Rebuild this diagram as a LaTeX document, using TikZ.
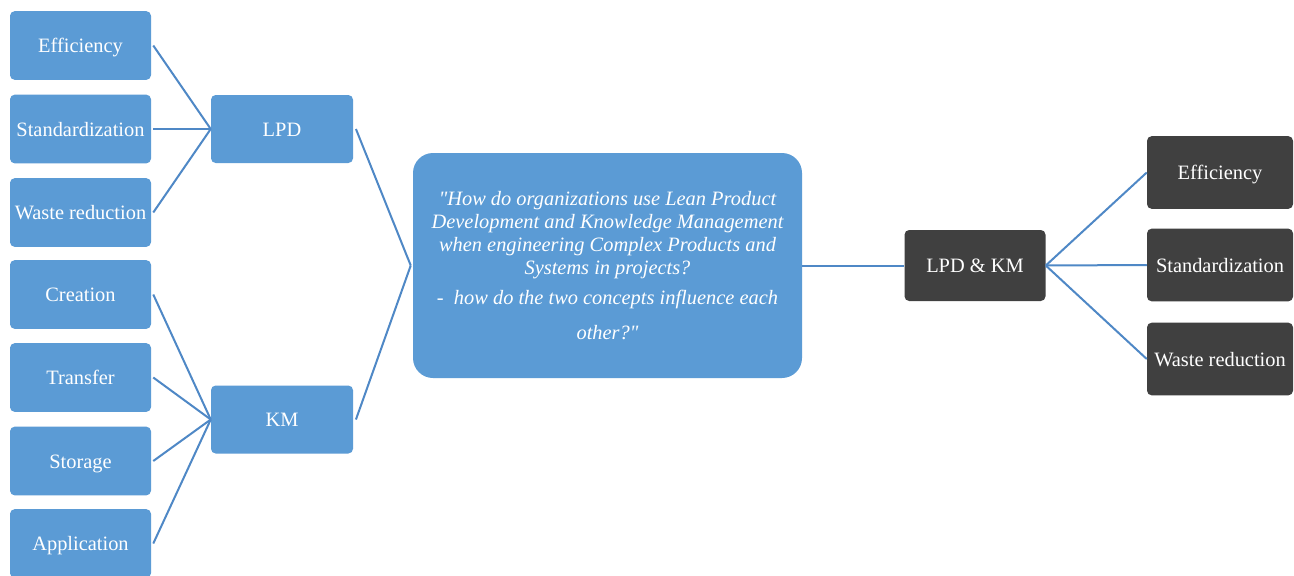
\documentclass[tikz,border=0pt]{standalone}
\usepackage{fontspec}
\setmainfont{Liberation Serif}[Ligatures=TeXOff]
\newfontfamily\tms{Liberation Serif}[Ligatures=TeXOff]
\definecolor{boxblue}{HTML}{5B9BD5}
\definecolor{boxdark}{HTML}{404040}
\definecolor{linkblue}{HTML}{4F88C6}
\begin{document}
\begin{tikzpicture}[x=0.75pt,y=-0.75pt,
  base/.style={rectangle, rounded corners=3.5pt, text=white, inner sep=0pt, align=center,
     font=\tms\fontsize{15.3}{18}\selectfont},
  one/.style={base, text height=10.5pt, text depth=0pt},
  leftbox/.style={one, fill=boxblue, minimum width=105.75pt, minimum height=51.5pt},
  midbox/.style={one, fill=boxblue, minimum width=106.5pt, minimum height=51pt},
  darkbox/.style={one, fill=boxdark, minimum width=109.5pt, minimum height=54.5pt},
  hubbox/.style={one, fill=boxdark, minimum width=105.75pt, minimum height=53.25pt},
  link/.style={draw=linkblue, line width=1.5pt}]
\useasboundingbox (0,0) rectangle (1294,575);
\fill[white] (0,0) rectangle (1294,575);
% left column
\node[leftbox] (e1) at (80.5,45.5) {Efficiency};
\node[leftbox] (s1) at (80.5,129) {Standardization};
\node[leftbox] (w1) at (80.5,212.5) {Waste reduction};
\node[leftbox] (cr) at (80.5,294.5) {Creation};
\node[leftbox] (tr) at (80.5,377.5) {Transfer};
\node[leftbox] (st) at (80.5,461) {Storage};
\node[leftbox] (ap) at (80.5,543.5) {Application};
% middle column
\node[midbox] (lpd) at (282,129) {LPD};
\node[midbox] (km) at (282,419.5) {KM};
% central question
\node[base, fill=boxblue, rounded corners=15pt, minimum width=291.75pt, minimum height=168.75pt,
      font=\tms\fontsize{15.3}{17.25}\selectfont\itshape] (q) at (607.5,265.5)
  {"How do organizations use Lean Product\\
   Development and Knowledge Management\\
   when engineering Complex Products and\\
   Systems in projects?\\[5.5pt]
   -\ \ how do the two concepts influence each\\[9pt]
   other?"};
% right side
\node[hubbox] (hub) at (975,265.5) {LPD \& KM};
\node[darkbox] (e2) at (1220,172.5) {Efficiency};
\node[darkbox] (s2) at (1220,265) {Standardization};
\node[darkbox] (w2) at (1220,359) {Waste reduction};
% connectors
\foreach \n in {e1,s1,w1} \draw[link] ([xshift=1.5pt]\n.east) -- (lpd.west);
\foreach \n in {cr,tr,st,ap} \draw[link] ([xshift=1.5pt]\n.east) -- (km.west);
\draw[link] ([xshift=2pt]lpd.east) -- ([xshift=-1.5pt]q.west);
\draw[link] ([xshift=2pt]km.east) -- ([xshift=-1.5pt]q.west);
\draw[link] (q.east) -- (hub.west);
\foreach \n in {e2,s2,w2} \draw[link] (hub.east) -- (\n.west);
\end{tikzpicture}
\end{document}
